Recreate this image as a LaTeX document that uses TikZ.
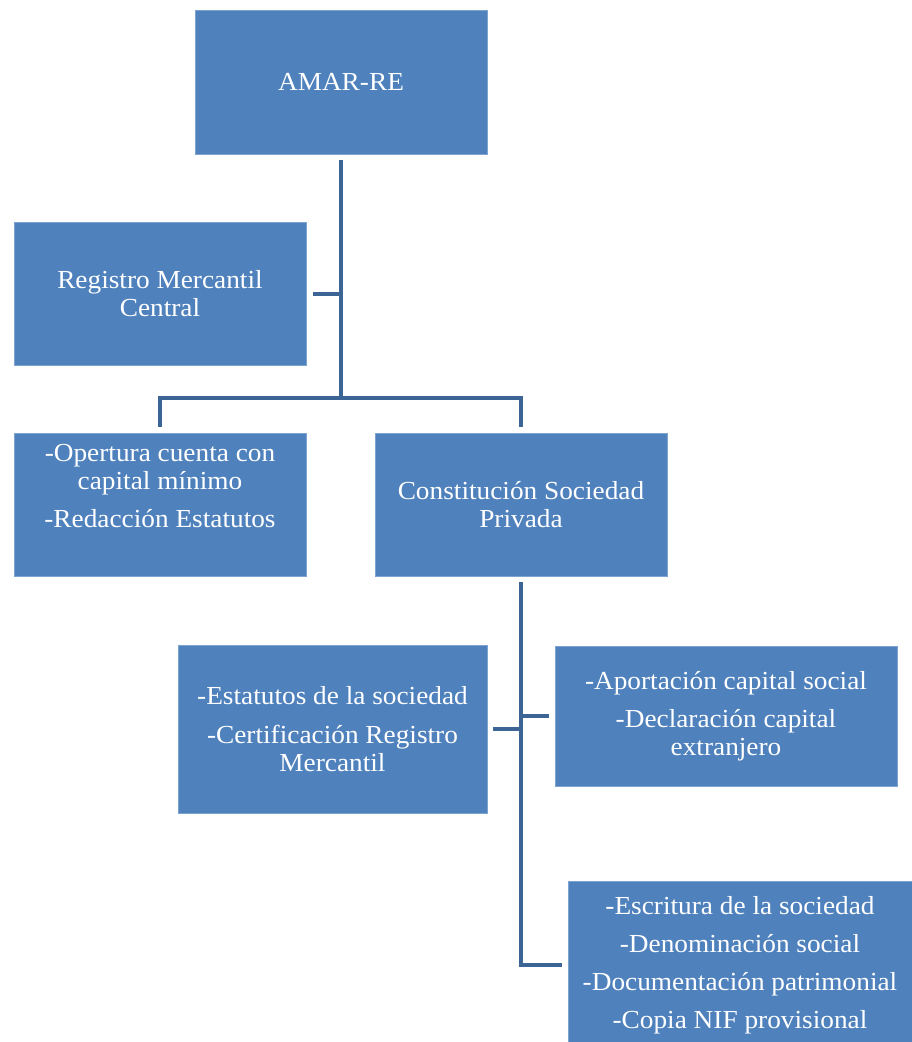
\documentclass[tikz,border=0pt]{standalone}
\usepackage{fontspec}
\setmainfont{Liberation Serif}
\newfontfamily\boxfont[FakeStretch=1.05]{Liberation Serif}
\definecolor{boxfill}{HTML}{4F81BD}
\definecolor{boxedge}{HTML}{7FA3D1}
\definecolor{linkblue}{HTML}{3C6595}
\begin{document}
\begin{tikzpicture}[x=1pt, y=-1pt,
        box/.style={fill=boxfill, draw=boxedge, line width=.8pt, text=white, align=center, inner sep=0pt, font=\boxfont\fontsize{26}{28}\selectfont},
        link/.style={draw=linkblue, line width=4pt}]
        \clip (0, 0) rectangle (912, 1042);

        \node[box, minimum width=292pt, minimum height=144pt] (amar) at (341, 82) {AMAR-RE};
        \node[box, minimum width=292pt, minimum height=143pt] (registro) at (160, 293.5) {Registro Mercantil\\Central};
        \node[box, minimum width=292pt, minimum height=143pt, text depth=38pt] (opertura) at (160, 504.5) {-Opertura cuenta con\\capital mínimo\\[10pt]-Redacción Estatutos};
        \node[box, minimum width=292pt, minimum height=143pt] (constitucion) at (521, 504.5) {Constitución Sociedad\\Privada};
        \node[box, minimum width=309pt, minimum height=168pt] (estatutos) at (332.5, 729) {-Estatutos de la sociedad\\[11pt]-Certificación Registro\\Mercantil};
        \node[box, minimum width=342pt, minimum height=140pt] (aportacion) at (726, 716) {-Aportación capital social\\[10pt]-Declaración capital\\extranjero};
        \node[box, minimum width=344pt, minimum height=168pt] (escritura) at (740, 965) {-Escritura de la sociedad\\[10pt]-Denominación social\\[10pt]-Documentación patrimonial\\[10pt]-Copia NIF provisional};

        \coordinate (hub) at (341, 398);

        \draw[link] ([yshift=-6pt]amar.south) -- (hub);
        \draw[link] ([xshift=7pt]registro.east) -- (registro.east -| amar.south);
        \draw[link] ([yshift=6pt]opertura.north) |- (hub) -| ([yshift=6pt]constitucion.north);
        \draw[link] ([yshift=-6pt]constitucion.south) |- ([xshift=-6pt]escritura.west);
        \draw[link] ([xshift=6pt]estatutos.east) -- (estatutos.east -| constitucion.south);
        \draw[link] (aportacion.west -| constitucion.south) -- ([xshift=-6pt]aportacion.west);
\end{tikzpicture}
\end{document}
